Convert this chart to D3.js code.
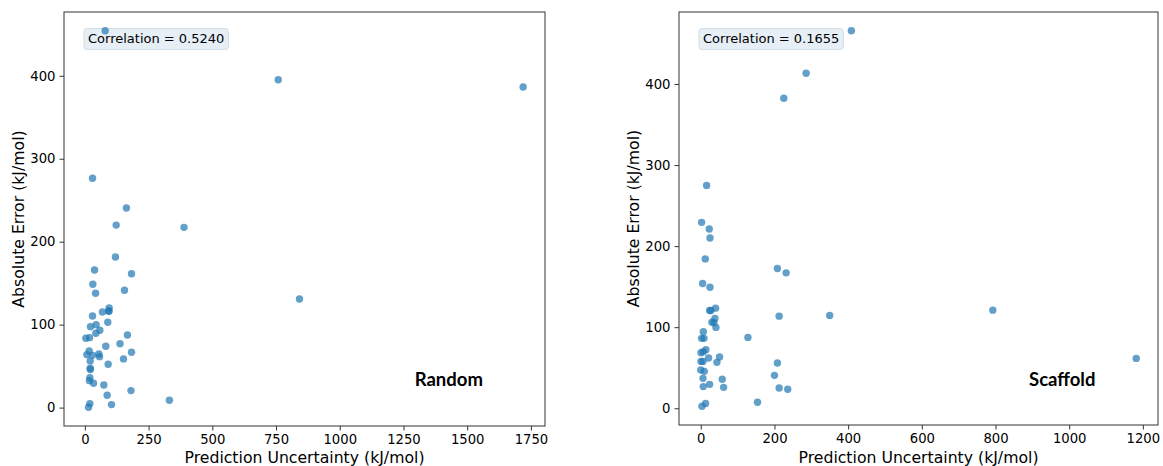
<!DOCTYPE html>
<html>
<head>
<meta charset="utf-8">
<script src="https://cdn.jsdelivr.net/npm/d3@7"></script>
<style>
  body { margin: 0; background: #fff; }
  text { font-family: "DejaVu Sans", sans-serif; }
  .axis text { font-size: 13.2px; fill: #000; }
  .axis path, .axis line { stroke: #333; }
</style>
</head>
<body>
<script>
// Random split: prediction uncertainty vs absolute error (kJ/mol)
var randomX = [79.6, 30, 163, 122.8, 389, 120, 38, 183, 31.3, 42, 155.4, 95.3, 95, 69, 93, 30, 90, 22, 44, 58.8,
               43, 167, 3.9, 18.3, 82, 138, 7.8, 17, 54.8, 57.5, 30, 20.8, 183, 151.5, 91.4, 20.8, 21.5, 19.6, 18, 34,
               74.4, 181, 87.5, 104.6, 19.6, 14.5, 331.6, 758.6, 1719.5, 842]
var randomY = [454.2, 276.4, 240.6, 220, 217.3, 181.6, 165.9, 161.4, 148.7, 137.8, 141.4, 120, 116.5, 115.3, 116, 110.5, 102.9, 97.6, 100, 93.2,
               89.6, 87.6, 83.6, 84.3, 74, 77.1, 63.9, 68.3, 64.7, 61.4, 63, 56.3, 66.7, 58.7, 52.3, 47.5, 46, 36.1, 32.5, 29.4,
               27.3, 20.5, 14.9, 3.6, 4.8, 0.5, 8.9, 395.2, 386.4, 131]

// Scaffold split
var scaffoldX = [408.7, 286, 225.4, 15.8, 2.2, 23, 25, 12.2, 208, 231.7, 5, 25, 40.2, 24, 27.5, 212.7, 350, 38.4, 30.3, 35.7,
                 41.2, 6.8, 2.2, 8.7, 128, 14, 0.5, 6.8, 21.2, 51, 43.8, 208, 0.5, 6, 0, 9.5, 200, 6, 58.3, 24,
                 6.8, 62, 212.7, 236, 154, 13, 3.2, 792.7, 1182]
var scaffoldY = [465.6, 413.2, 382.4, 274.9, 229.3, 221.1, 210, 184.2, 172.3, 167, 153.8, 149.3, 123.5, 120.6, 120.6, 113.6, 114.5, 110.8, 106.2, 105.4,
                 99.7, 94.4, 86.2, 86.2, 87.4, 72.2, 68.5, 69.8, 62, 63.2, 56.6, 55.8, 57.8, 57.8, 47.2, 45.5, 40.6, 36.9, 35.7, 29.5,
                 26.7, 25.8, 25, 23.4, 7.4, 5.8, 2.5, 121, 61.5]

var panels = [
  {name: "Random", xs: randomX, ys: randomY, corr: "0.5240", xTicks: [0, 250, 500, 750, 1000, 1250, 1500, 1750],
   left: 64, right: 545, top: 12, bottom: 426},
  {name: "Scaffold", xs: scaffoldX, ys: scaffoldY, corr: "0.1655", xTicks: [0, 200, 400, 600, 800, 1000, 1200],
   left: 679, right: 1158, top: 12, bottom: 425}
]

var svg = d3.select("body").append("svg")
    .attr("width", 1163)
    .attr("height", 466)

// matplotlib style 5% margins around the data
function padded(vals) {
  var ext = d3.extent(vals), pad = (ext[1] - ext[0]) * 0.05
  return [ext[0] - pad, ext[1] + pad]
}

panels.forEach(function(p) {
  var x = d3.scaleLinear().domain(padded(p.xs)).range([p.left, p.right])
  var y = d3.scaleLinear().domain(padded(p.ys)).range([p.bottom, p.top])

  var g = svg.append("g")

  g.append("g")
      .attr("class", "axis")
      .attr("transform", "translate(0," + p.bottom + ")")
      .call(d3.axisBottom(x).tickValues(p.xTicks).tickFormat(d3.format("d")).tickSize(4.5).tickPadding(4).tickSizeOuter(0))

  g.append("g")
      .attr("class", "axis")
      .attr("transform", "translate(" + p.left + ",0)")
      .call(d3.axisLeft(y).ticks(5).tickFormat(d3.format("d")).tickSize(4.5).tickPadding(4).tickSizeOuter(0))

  g.selectAll(".axis .domain").remove()

  // frame
  g.append("rect")
      .attr("x", p.left).attr("y", p.top)
      .attr("width", p.right - p.left).attr("height", p.bottom - p.top)
      .attr("fill", "none").attr("stroke", "#333").attr("stroke-width", 1)

  // correlation box (drawn under the points)
  var box = g.append("rect")
  var label = g.append("text")
      .attr("x", p.left + 24)
      .attr("y", p.top + 31)
      .attr("font-size", "13px")
      .text("Correlation = " + p.corr)
  var bb = label.node().getBBox()
  box.attr("x", bb.x - 4).attr("y", p.top + 16.5)
      .attr("width", bb.width + 8).attr("height", 21)
      .attr("rx", 3)
      .attr("fill", "#e6eef6")
      .attr("stroke", "#d3dde8").attr("stroke-width", 1)

  var pts = d3.zip(p.xs, p.ys)
  g.selectAll("circle")
    .data(pts)
    .enter().append("circle")
      .attr("cx", function(d) { return x(d[0]) })
      .attr("cy", function(d) { return y(d[1]) })
      .attr("r", 3.7)
      .attr("fill", "#1f77b4")
      .attr("fill-opacity", 0.7)

  g.append("text")
      .attr("x", p.left + (p.right - p.left) * 0.8)
      .attr("y", 385.5)
      .attr("text-anchor", "middle")
      .style("font-family", "Lato, 'Open Sans', sans-serif")
      .style("font-weight", "bold")
      .attr("font-size", "18.5px")
      .text(p.name)

  g.append("text")
      .attr("x", (p.left + p.right) / 2)
      .attr("y", 463)
      .attr("text-anchor", "middle")
      .attr("font-size", "15.7px")
      .text("Prediction Uncertainty (kJ/mol)")

  g.append("text")
      .attr("transform", "translate(" + (p.left - 40) + "," + ((p.top + p.bottom) / 2) + ") rotate(-90)")
      .attr("text-anchor", "middle")
      .attr("font-size", "15.7px")
      .text("Absolute Error (kJ/mol)")
})
</script>
</body>
</html>
